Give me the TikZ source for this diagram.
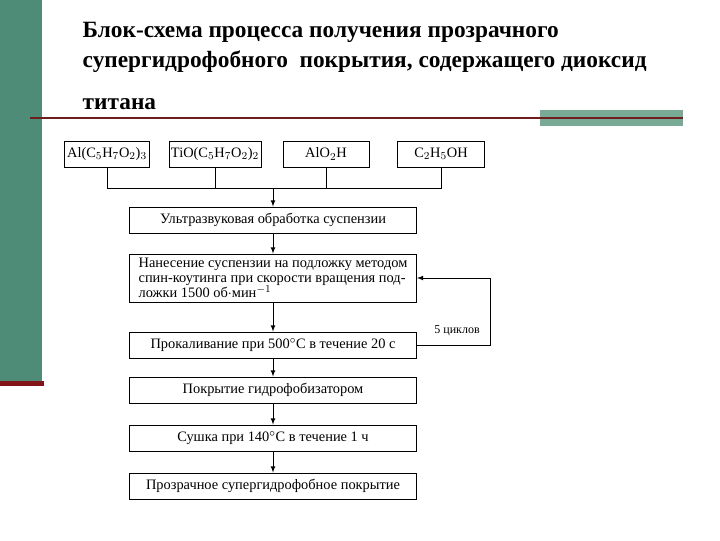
\documentclass[tikz,border=0pt]{standalone}
\usepackage{fontspec}
\setmainfont{Liberation Serif}
\definecolor{sgreen}{RGB}{78,140,120}
\definecolor{lgreen}{RGB}{120,170,150}
\definecolor{sred}{RGB}{130,20,25}
\definecolor{rule}{RGB}{110,30,30}
\begin{document}
\begin{tikzpicture}[x=0.75pt,y=-0.75pt,
  bx/.style={draw,line width=0.7pt,minimum height=26*0.75pt,inner sep=1.5pt,font=\fontsize{10.8}{11.5}\selectfont},
  ar/.style={-latex,line width=0.6pt},
  ln/.style={line width=0.6pt}]
\useasboundingbox (0,0) rectangle (720,540);
\fill[white] (0,0) rectangle (720,540);
\fill[sgreen] (0,0) rectangle (42,381);
\fill[sred] (0,381) rectangle (44,386);
\fill[lgreen] (540,110) rectangle (683,126);
\draw[rule,line width=2pt] (30,118) -- (683,118);
\node[anchor=west,font=\fontsize{17.5}{20}\bfseries] (t1) at (78,32) {Блок-схема процесса получения прозрачного};
\node[anchor=west,font=\fontsize{17.5}{20}\bfseries] (t2) at (78,62) {супергидрофобного\ \ покрытия, содержащего диоксид};
\node[anchor=west,font=\fontsize{17.5}{20}\bfseries] (t3) at (78,104) {титана};
\node[bx,minimum width=85*0.75pt] (a) at (107,154) {Al(C$_5$H$_7$O$_2$)$_3$};
\node[bx,minimum width=90*0.75pt] (b) at (215,154) {TiO(C$_5$H$_7$O$_2$)$_2$};
\node[bx,minimum width=86*0.75pt] (c) at (326,154) {AlO$_2$H};
\node[bx,minimum width=87*0.75pt] (d) at (441,154) {C$_2$H$_5$OH};
\node[bx,minimum width=287*0.75pt] (s1) at (273,220) {Ультразвуковая обработка суспензии};
\node[bx,minimum width=287*0.75pt,minimum height=48*0.75pt,align=left] (s2) at (273,278) {Нанесение суспензии на подложку методом\\спин-коутинга при скорости вращения под-\\ложки 1500 об$\cdot$мин\textsuperscript{$-1$}};
\node[bx,minimum width=287*0.75pt] (s3) at (273,345) {Прокаливание при 500$^\circ$C в течение 20 с};
\node[bx,minimum width=287*0.75pt] (s4) at (273,390) {Покрытие гидрофобизатором};
\node[bx,minimum width=287*0.75pt] (s5) at (273,438) {Сушка при 140$^\circ$C в течение 1 ч};
\node[bx,minimum width=287*0.75pt] (s6) at (273,486) {Прозрачное супергидрофобное покрытие};
\coordinate (bl) at (107,188); \coordinate (br) at (441,188); \coordinate (bm) at (273,188);
\draw[ln] (a.south) -- (bl) -- (br) -- (d.south);
\draw[ln] (b.south) -- (b.south |- bl);
\draw[ln] (c.south) -- (c.south |- bl);
\draw[ar] (bm) -- (s1);
\draw[ar] (s1) -- (s2);
\draw[ar] (s2) -- (s3);
\draw[ar] (s3) -- (s4);
\draw[ar] (s4) -- (s5);
\draw[ar] (s5) -- (s6);
\coordinate (fr) at (490,345);
\draw[ar] (s3.east) -- (fr) -- (fr |- s2.east) -- (s2.east);
\node[font=\fontsize{9}{10}\selectfont] (lb) at (457,331) {5 циклов};
\end{tikzpicture}
\end{document}
